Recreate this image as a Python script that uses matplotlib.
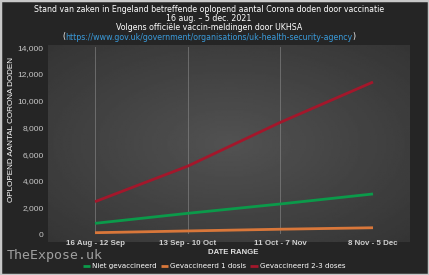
import numpy as np
import matplotlib
matplotlib.use("Agg")
from matplotlib import pyplot as plt
from matplotlib.patches import Rectangle

periods = ['16 Aug - 12 Sep', '13 Sep - 10 Oct', '11 Oct - 7 Nov', '8 Nov - 5 Dec']
niet_gevaccineerd = [820, 1570, 2270, 3020]
een_dosis = [120, 250, 380, 490]
twee_drie_doses = [2440, 5100, 8380, 11400]

series_names = ['Niet gevaccineerd', 'Gevaccineerd 1 dosis', 'Gevaccineerd 2-3 doses']
series_colors = ['#0b9a4a', '#d9773a', '#a3172b']
y_ticks = [0, 2000, 4000, 6000, 8000, 10000, 12000, 14000]

W, H = 429, 275
fig = plt.figure(figsize=(W / 100, H / 100), dpi=100, facecolor='#252525')

# soft radial glow behind the plot area
bg = fig.add_axes([48 / W, 1 - 242 / H, 362 / W, 197 / H], zorder=0)
gx, gy = np.meshgrid(np.linspace(-1, 1, 200), np.linspace(-1, 1, 120))
r = np.sqrt(gx ** 2 + gy ** 2)
bg.imshow(0.32 - 0.08 * np.clip(r, 0, 1.4), cmap='gray', vmin=0, vmax=1,
          aspect='auto', extent=[0, 1, 0, 1])
bg.axis('off')

ax = fig.add_axes([95 / W, 1 - 234.3 / H, 278 / W, 187 / H], zorder=1)
ax.patch.set_alpha(0)
x = np.arange(len(periods))
for vals, name, col in zip([niet_gevaccineerd, een_dosis, twee_drie_doses], series_names, series_colors):
    ax.plot(x, vals, color=col, lw=2.0, label=name, clip_on=False, solid_capstyle='butt', zorder=3)

for xi in x:
    ax.axvline(xi, color='#8a8a8a', lw=0.7, alpha=0.6, zorder=1)

ax.set_xlim(0, 3)
ax.set_ylim(0, 14000)
ax.set_yticks(y_ticks)
ax.set_yticklabels([f'{v:,}' for v in y_ticks])
ax.set_xticks(x)
ax.set_xticklabels(periods)
for s in ax.spines.values():
    s.set_visible(False)
ax.tick_params(axis='y', length=0, pad=37, labelsize=6, labelcolor='#c8c8c8')
ax.tick_params(axis='x', length=0, pad=4, labelsize=5.7, labelcolor='#d0d0d0')
for lab in ax.get_xticklabels() + ax.get_yticklabels():
    lab.set_family('Liberation Sans')
for lab in ax.get_xticklabels():
    lab.set_fontweight('bold')

fig.text(12 / W, 1 - 130 / H, 'OPLOPEND AANTAL CORONA DODEN', rotation=90, ha='center', va='center',
         color='white', fontsize=5.9, family='Liberation Sans')
fig.text(233 / W, 1 - 253 / H, 'DATE RANGE', ha='center', va='center', color='#e0e0e0',
         fontsize=5.6, fontweight='bold', family='Liberation Sans')
fig.text(7 / W, 1 - 256 / H, 'TheExpose.uk', ha='left', va='center', color='#a0a0a0',
         fontsize=9.5, family='DejaVu Sans Mono')

title = ['Stand van zaken in Engeland betreffende oplopend aantal Corona doden door vaccinatie',
         '16 aug. \u2013 5 dec. 2021',
         'Volgens offici\u00eble vaccin-meldingen door UKHSA']
for i, t in enumerate(title):
    fig.text(209 / W, 1 - (9 + 9.3 * i) / H, t, ha='center', va='center', color='white', fontsize=5.7)
url = fig.text(209 / W, 1 - 37 / H, 'https://www.gov.uk/government/organisations/uk-health-security-agency',
               ha='center', va='center', color='#3a9ad9', fontsize=5.7)
ax.annotate('(', xy=(0, 0.5), xycoords=url, ha='right', va='center', color='white', fontsize=5.7,
            annotation_clip=False)
ax.annotate(')', xy=(1, 0.5), xycoords=url, ha='left', va='center', color='white', fontsize=5.7,
            annotation_clip=False)

leg = fig.legend(loc='center', bbox_to_anchor=(214 / W, 1 - 266 / H), ncol=3, frameon=False,
                 fontsize=5.1, handlelength=1.0, handletextpad=0.3, columnspacing=0.6,
                 labelcolor='white')
for h in leg.legend_handles:
    h.set_linewidth(2.0)

# thin light frame around the picture
fig.patches.append(Rectangle((0, 0), 1, 1, transform=fig.transFigure, fill=False,
                             edgecolor='#c8c8c8', lw=2.5))

fig.savefig('out.png', dpi=100, facecolor=fig.get_facecolor())
